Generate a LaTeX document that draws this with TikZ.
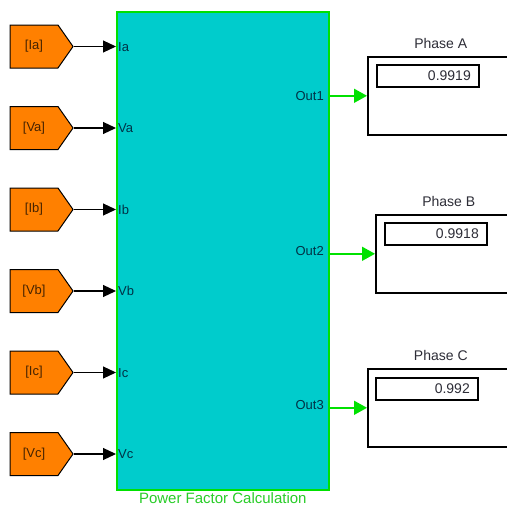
\documentclass[tikz,border=0pt]{standalone}
\usepackage{fontspec}
\setmainfont{Liberation Sans}
\usetikzlibrary{positioning,arrows.meta,shapes.symbols}
\definecolor{blkcyan}{RGB}{0,204,204}
\definecolor{blkgreen}{RGB}{0,225,0}
\definecolor{gotoorange}{RGB}{255,128,0}
\definecolor{gototext}{RGB}{70,35,0}
\definecolor{lblgreen}{RGB}{40,205,40}
\definecolor{porttext}{RGB}{0,50,70}
\definecolor{titletext}{RGB}{45,45,55}
\begin{document}
\begin{tikzpicture}[x=1pt,y=-1pt,
	goto/.style={signal,signal to=east,signal pointer angle=110,draw=black,fill=gotoorange,line width=1pt,minimum width=63pt,minimum height=43pt,inner sep=0pt,text=gototext,font=\fontsize{13}{13}\selectfont},
	portlbl/.style={inner sep=0pt,text=porttext,font=\fontsize{13}{13}\selectfont},
	disp/.style={draw=black,line width=1.6pt,minimum width=146pt,minimum height=78pt,inner sep=0pt},
	valbox/.style={draw=black,line width=1.6pt,text width=86pt,align=right,inner xsep=8pt,inner ysep=4pt,minimum height=22pt,text=titletext,font=\fontsize{14}{14}\selectfont},
	title/.style={inner sep=0pt,text=titletext,font=\fontsize{14}{14}\selectfont},
	inarrow/.style={-{Triangle[length=13pt,width=12pt]},line width=1.2pt,black},
	outarrow/.style={-{Triangle[length=13pt,width=14pt]},line width=1.6pt,blkgreen}]
	\path[use as bounding box,fill=white] (0,0) rectangle (507,506);
	\clip (0,0) rectangle (507,506);
	% khoi tinh he so cong suat
	\node[draw=blkgreen,fill=blkcyan,line width=1.6pt,minimum width=212pt,minimum height=478pt,inner sep=0pt,anchor=north west] (pfc) at (116,11) {};
	\node[below=2pt of pfc,inner sep=0pt,text=lblgreen,font=\fontsize{15}{15}\selectfont] (pfclbl) {Power Factor Calculation};
	% cac khoi Goto ben trai
	\node[goto] (gIa) at (34,46.5) {[Ia]};
	\node[goto] (gVa) at (34,128) {[Va]};
	\node[goto] (gIb) at (34,209.5) {[Ib]};
	\node[goto] (gVb) at (34,291) {[Vb]};
	\node[goto] (gIc) at (34,372.5) {[Ic]};
	\node[goto] (gVc) at (34,454) {[Vc]};
	\draw[inarrow] (gIa.east) -- (gIa.east -| pfc.west);
	\draw[inarrow] (gVa.east) -- (gVa.east -| pfc.west);
	\draw[inarrow] (gIb.east) -- (gIb.east -| pfc.west);
	\draw[inarrow] (gVb.east) -- (gVb.east -| pfc.west);
	\draw[inarrow] (gIc.east) -- (gIc.east -| pfc.west);
	\draw[inarrow] (gVc.east) -- (gVc.east -| pfc.west);
	\node[portlbl,anchor=west] (pIa) at (118,47) {Ia};
	\node[portlbl,anchor=west] (pVa) at (118,128) {Va};
	\node[portlbl,anchor=west] (pIb) at (118,210) {Ib};
	\node[portlbl,anchor=west] (pVb) at (118,291) {Vb};
	\node[portlbl,anchor=west] (pIc) at (118,373) {Ic};
	\node[portlbl,anchor=west] (pVc) at (118,454) {Vc};
	% cac khoi Display ben phai
	\node[disp,anchor=north west] (dispA) at (367,56) {};
	\node[disp,anchor=north west] (dispB) at (375,214) {};
	\node[disp,anchor=north west] (dispC) at (367,368) {};
	\node[title,above=7pt of dispA] (tA) {Phase A};
	\node[title,above=7pt of dispB] (tB) {Phase B};
	\node[title,above=7pt of dispC] (tC) {Phase C};
	\node[valbox,anchor=north west] (vA) at (376,64) {0.9919};
	\node[valbox,anchor=north west] (vB) at (384,222) {0.9918};
	\node[valbox,anchor=north west] (vC) at (375,377) {0.992};
	\draw[outarrow] (pfc.east |- dispA.west) -- (dispA.west);
	\draw[outarrow] (pfc.east |- dispB.west) -- (dispB.west);
	\draw[outarrow] (pfc.east |- dispC.west) -- (dispC.west);
	\node[portlbl,anchor=east] (o1) at (324,96) {Out1};
	\node[portlbl,anchor=east] (o2) at (324,251) {Out2};
	\node[portlbl,anchor=east] (o3) at (324,405) {Out3};
\end{tikzpicture}
\end{document}
